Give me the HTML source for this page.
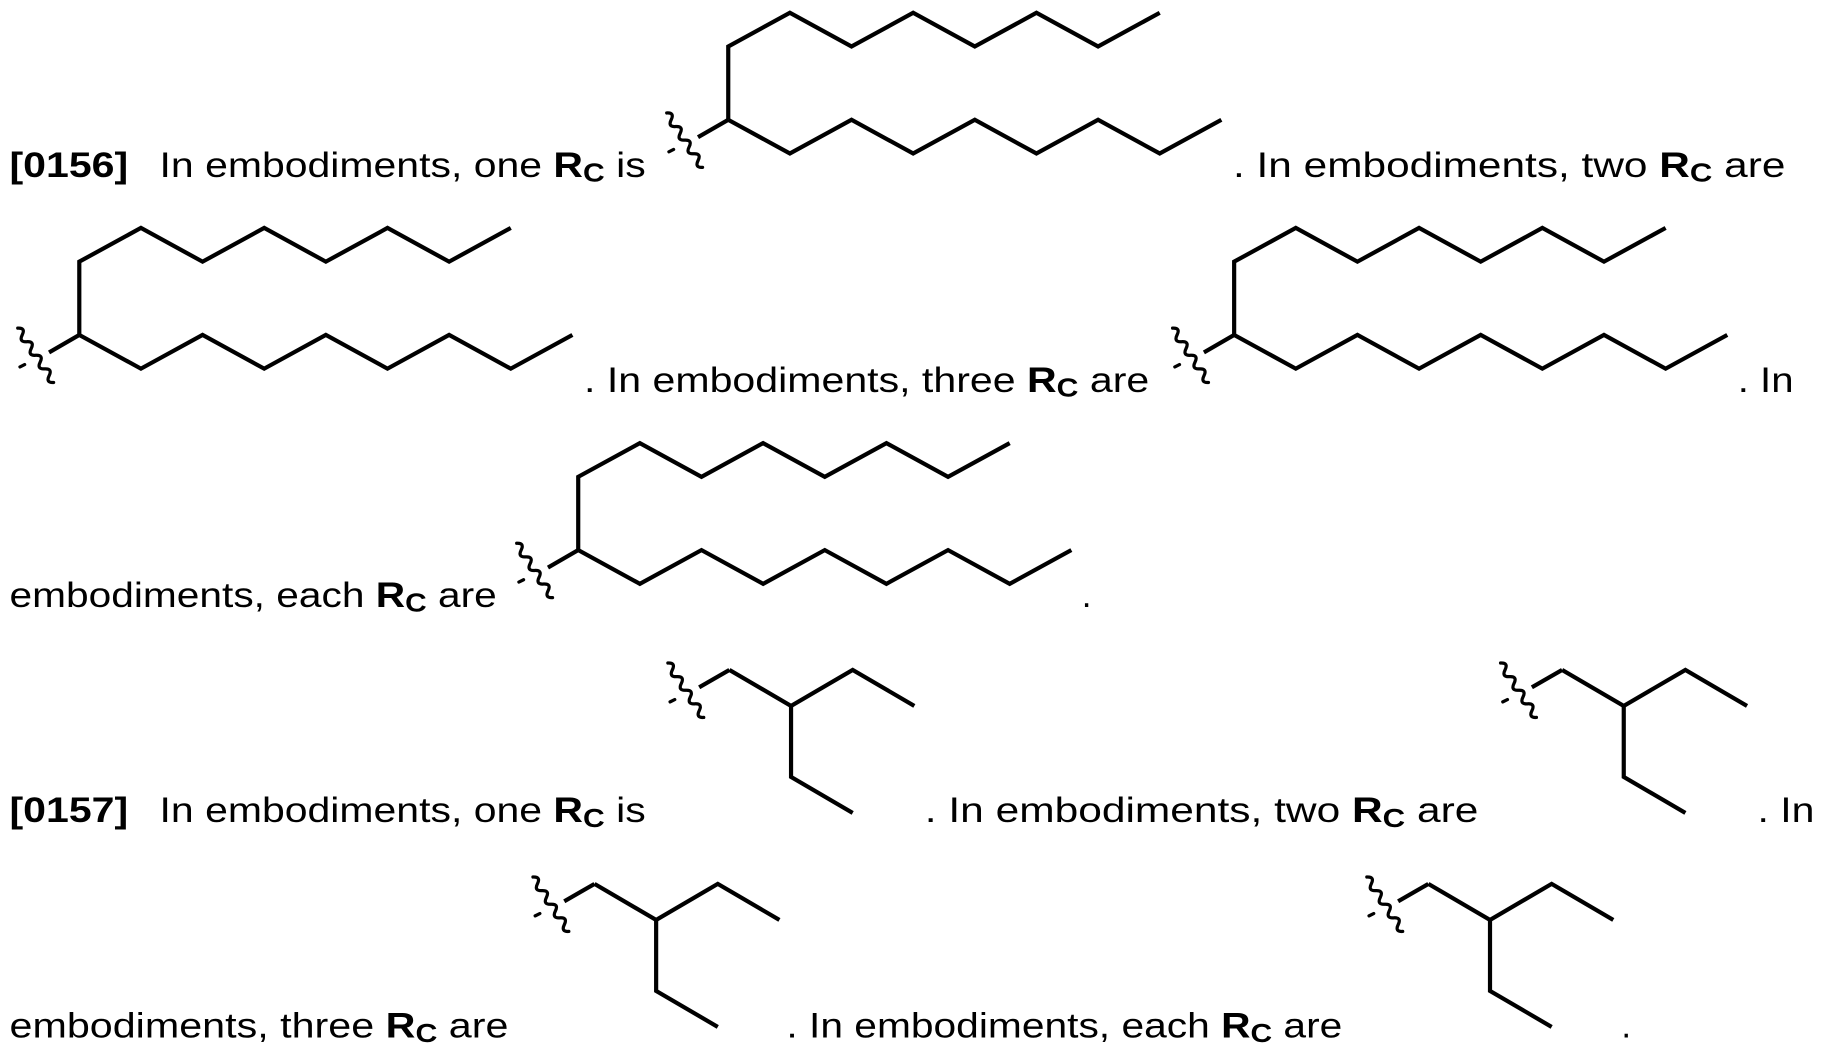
<!DOCTYPE html>
<html><head><meta charset="utf-8"><style>html,body{margin:0;padding:0;background:#fff}svg{display:block}</style></head>
<body>
<svg width="1824" height="1056" viewBox="0 0 1568 908" xmlns="http://www.w3.org/2000/svg">
<defs>
<g id="wavy" fill="none" stroke="#000" stroke-width="2.8" stroke-linecap="round">
<line x1="-26" y1="15" x2="0" y2="0" stroke-width="3.6" stroke-linecap="butt"/>
<path transform="translate(-37.5,17.5) rotate(56.6)" d="M-28,0 q3.5,-6 7,0 t7,0 t7,0 t7,0 t7,0 t7,0 t7,0 t7,0"/>
<line x1="-51" y1="27.5" x2="-47" y2="25.5"/>
</g>
<g id="big" fill="none" stroke="#000" stroke-width="3.6" stroke-linejoin="miter">
<polyline points="0,0 0,-63 53,-92 106,-63 159,-92 212,-63 265,-92 318,-63 371,-92"/>
<polyline points="0,0 53,29 106,0 159,29 212,0 265,29 318,0 371,29 424,0"/>
<use href="#wavy"/>
</g>
<g id="small" fill="none" stroke="#000" stroke-width="3.6">
<polyline points="0,0 53,31 106,0 159,31"/>
<polyline points="53,31 53,92 106,123"/>
<use href="#wavy"/>
</g>
</defs>
<use href="#big" x="626" y="103"/>
<use href="#big" x="68" y="288"/>
<use href="#big" x="1061" y="288"/>
<use href="#big" x="497" y="473"/>
<use href="#small" x="627" y="576"/>
<use href="#small" x="1343" y="576"/>
<use href="#small" x="511" y="760"/>
<use href="#small" x="1228" y="760"/>
<g font-family="Liberation Sans, sans-serif" font-size="30" fill="#000">
<text x="8" y="152" font-weight="bold" textLength="102" lengthAdjust="spacingAndGlyphs">[0156]</text>
<text x="137" y="152" textLength="418" lengthAdjust="spacingAndGlyphs">In embodiments, one <tspan font-weight="bold">R</tspan><tspan font-weight="bold" font-size="22" dy="4">C</tspan><tspan dy="-4"> is</tspan></text>
<text x="1060" y="152" textLength="475" lengthAdjust="spacingAndGlyphs">.  In embodiments, two <tspan font-weight="bold">R</tspan><tspan font-weight="bold" font-size="22" dy="4">C</tspan><tspan dy="-4"> are</tspan></text>
<text x="502" y="337" textLength="486" lengthAdjust="spacingAndGlyphs">. In embodiments, three <tspan font-weight="bold">R</tspan><tspan font-weight="bold" font-size="22" dy="4">C</tspan><tspan dy="-4"> are</tspan></text>
<text x="1494" y="337" textLength="48" lengthAdjust="spacingAndGlyphs">. In</text>
<text x="8" y="522" textLength="419" lengthAdjust="spacingAndGlyphs">embodiments, each <tspan font-weight="bold">R</tspan><tspan font-weight="bold" font-size="22" dy="4">C</tspan><tspan dy="-4"> are</tspan></text>
<text x="930" y="522">.</text>
<text x="8" y="707" font-weight="bold" textLength="102" lengthAdjust="spacingAndGlyphs">[0157]</text>
<text x="137" y="707" textLength="418" lengthAdjust="spacingAndGlyphs">In embodiments, one <tspan font-weight="bold">R</tspan><tspan font-weight="bold" font-size="22" dy="4">C</tspan><tspan dy="-4"> is</tspan></text>
<text x="795" y="707" textLength="476" lengthAdjust="spacingAndGlyphs">.  In embodiments, two <tspan font-weight="bold">R</tspan><tspan font-weight="bold" font-size="22" dy="4">C</tspan><tspan dy="-4"> are</tspan></text>
<text x="1511" y="707" textLength="49" lengthAdjust="spacingAndGlyphs">. In</text>
<text x="8" y="892" textLength="429" lengthAdjust="spacingAndGlyphs">embodiments, three <tspan font-weight="bold">R</tspan><tspan font-weight="bold" font-size="22" dy="4">C</tspan><tspan dy="-4"> are</tspan></text>
<text x="676" y="892" textLength="478" lengthAdjust="spacingAndGlyphs">. In embodiments, each <tspan font-weight="bold">R</tspan><tspan font-weight="bold" font-size="22" dy="4">C</tspan><tspan dy="-4"> are</tspan></text>
<text x="1394" y="892">.</text>
</g>
</svg>
</body></html>
